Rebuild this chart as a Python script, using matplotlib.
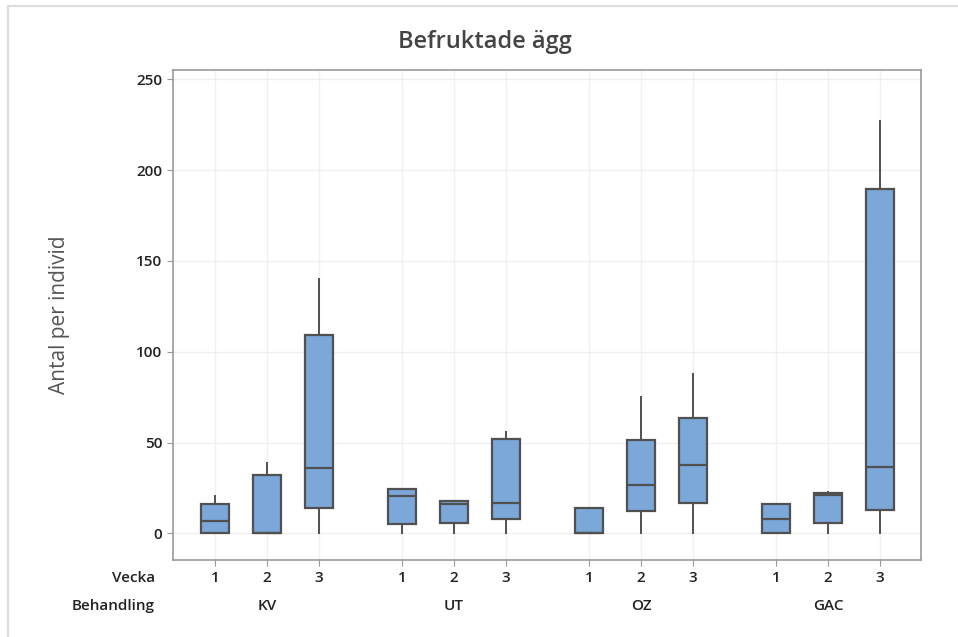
import matplotlib.pyplot as plt
from matplotlib.lines import Line2D

plt.rcParams['font.family'] = ['Open Sans', 'DejaVu Sans']

behandling = ["KV", "UT", "OZ", "GAC"]
vecka = ["1", "2", "3"]

# per box (KV1, KV2, KV3, UT1, ...): whisker low, Q1, median, Q3, whisker high
whislo = [0, 0, 0, 0, 0, 0, 0, 0, 0, 0, 0, 0]
q1 = [0, 0, 14, 5, 5.7, 7.7, 0, 12.2, 16.8, 0, 5.8, 13]
med = [6.7, 0, 36, 20.4, 16, 16.8, 0, 26.8, 37.7, 7.7, 21.3, 36.8]
q3 = [16, 32.3, 109.5, 24.2, 17.7, 52.2, 14, 51.4, 63.8, 16, 22, 189.5]
whishi = [20.8, 39, 140, 24.2, 17.7, 56, 14, 75, 88, 16, 23, 227]

stats = []
for i in range(len(q1)):
    stats.append(dict(whislo=whislo[i], q1=q1[i], med=med[i], q3=q3[i],
                      whishi=whishi[i], fliers=[]))

pos = []
for g in range(len(behandling)):
    for v in range(len(vecka)):
        pos.append(v + 3.6 * g)

fig = plt.figure(figsize=(9.58, 6.37), dpi=100)
ax = fig.add_axes([0.1806, 0.1209, 0.7808, 0.769])

ax.bxp(stats, positions=pos, widths=0.55, patch_artist=True, showcaps=False,
       boxprops=dict(facecolor="#7ba7d9", edgecolor="#505050", linewidth=1.6),
       medianprops=dict(color="#505050", linewidth=1.6),
       whiskerprops=dict(color="#505050", linewidth=1.4))

ax.set_xlim(-0.81, 13.59)
ax.set_ylim(-14.6, 255)
ax.set_yticks([0, 50, 100, 150, 200, 250])
ax.set_xticks(pos)
ax.set_xticklabels([])
ax.grid(True, color="#f0f0f0", linewidth=1)
ax.set_axisbelow(True)
for s in ax.spines.values():
    s.set_color("#999999")
    s.set_linewidth(1.2)
ax.tick_params(colors="#999999", labelcolor="#222222", labelsize=11, length=4)
for t in ax.get_yticklabels():
    t.set_fontweight("semibold")

txt = dict(fontsize=11, color="#222222", fontweight="semibold")
for p, lab in zip(pos, vecka * len(behandling)):
    ax.text(p, -0.037, lab, transform=ax.get_xaxis_transform(), ha="center", va="center", **txt)
for g, lab in enumerate(behandling):
    ax.text(1 + 3.6 * g, -0.094, lab, transform=ax.get_xaxis_transform(), ha="center",
            va="center", **txt)
fig.text(155 / 958, 1 - 578 / 637, "Vecka", ha="right", va="center", **txt)
fig.text(155 / 958, 1 - 606 / 637, "Behandling", ha="right", va="center", **txt)

ax.set_ylabel("Antal per individ", fontsize=15, color="#555555", labelpad=48)
fig.text(485 / 958, 1 - 42 / 637, "Befruktade ägg", ha="center", va="center",
         fontsize=17, color="#444444", fontweight="semibold")

# light frame around the chart
fig.add_artist(Line2D([8 / 958, 8 / 958], [0, 1 - 6 / 637], color="#dddddd", linewidth=1.5))
fig.add_artist(Line2D([8 / 958, 1], [1 - 6 / 637, 1 - 6 / 637], color="#dddddd", linewidth=1.5))

plt.savefig("out.png")
